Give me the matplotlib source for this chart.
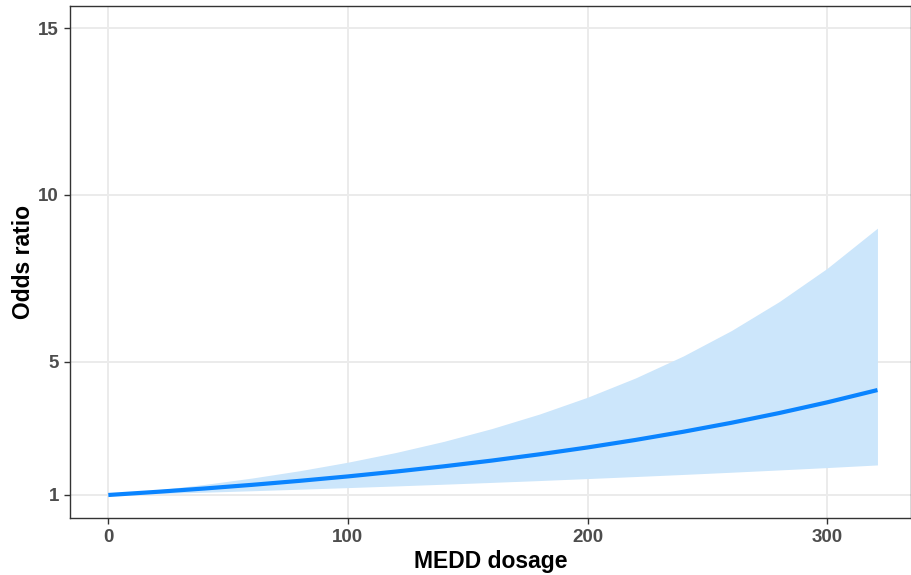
import numpy as np
import matplotlib
matplotlib.use('Agg')
import matplotlib.pyplot as plt

plt.rcParams['font.family'] = ['Liberation Sans', 'DejaVu Sans']

# values
dose = [0, 20, 40, 60, 80, 100, 120, 140, 160, 180, 200, 220, 240, 260, 280, 300, 321]
odds = [1.00, 1.093, 1.194, 1.304, 1.425, 1.557, 1.702, 1.859, 2.031, 2.220,
        2.425, 2.650, 2.896, 3.164, 3.457, 3.777, 4.146]
upper = [1.00, 1.147, 1.315, 1.508, 1.729, 1.983, 2.274, 2.607, 2.990, 3.428,
         3.931, 4.508, 5.169, 5.928, 6.798, 7.795, 9.00]
lower = [1.00, 1.041, 1.083, 1.127, 1.174, 1.221, 1.271, 1.323, 1.377, 1.433,
         1.492, 1.553, 1.616, 1.682, 1.751, 1.822, 1.901]

xticks = [0, 100, 200, 300]
yticks = [1, 5, 10, 15]

fig = plt.figure(figsize=(9.12, 5.75), dpi=100)
ax = fig.add_axes([70 / 912, 57 / 575, 841 / 912, 512 / 575])

ax.fill_between(dose, lower, upper, color='#cce6fb', linewidth=0, zorder=2)
ax.plot(dose, odds, color='#0a84ff', linewidth=3, solid_capstyle='butt', zorder=3)

ax.set_xlim(-16, 335)
ax.set_ylim(0.31, 15.66)
ax.set_xticks(xticks)
ax.set_yticks(yticks)
ax.grid(True, color='#ebebeb', linewidth=1.4, zorder=0)
ax.set_axisbelow(True)

for s in ax.spines.values():
    s.set_color('#333333')
    s.set_linewidth(1.0)

ax.tick_params(axis='both', direction='out', length=4, width=1.0, color='#333333',
               labelcolor='#4d4d4d', labelsize=13.5, pad=4)
for lab in ax.get_xticklabels() + ax.get_yticklabels():
    lab.set_fontweight('bold')

ax.set_xlabel('MEDD dosage', fontsize=16.5, fontweight='bold', labelpad=3)
ax.set_ylabel('Odds ratio', fontsize=16.5, fontweight='bold', labelpad=2)

fig.savefig('out.png', dpi=100)
